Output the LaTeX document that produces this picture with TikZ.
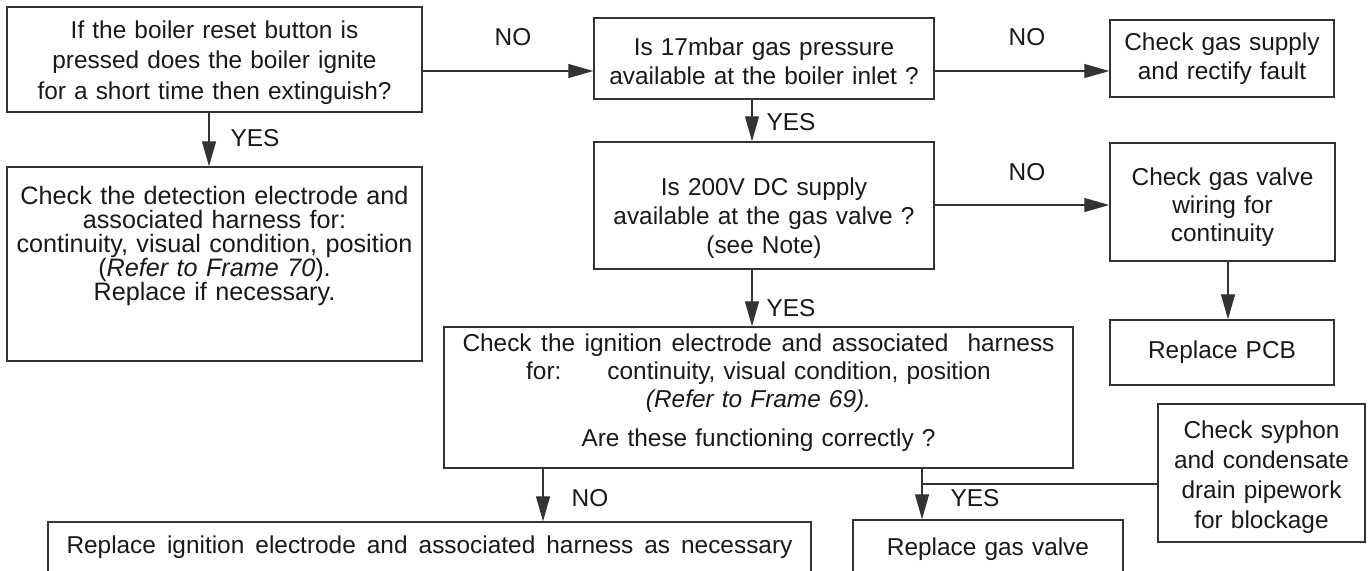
\documentclass[tikz,border=0pt]{standalone}
\usepackage{fontspec}
\setmainfont{Liberation Sans}[WordSpace=1.2]
\usetikzlibrary{arrows.meta,positioning}

\newcommand\tightlines{\lineskiplimit=-20pt\relax}

\tikzset{
  box/.style={draw=black!80, line width=0.75pt, inner sep=2pt, align=center,
    text=black!90, font=\fontsize{12.2}{14.5}\selectfont},
  lbl/.style={inner sep=0pt, text=black!90, font=\fontsize{12.2}{14.5}\selectfont},
  arr/.style={draw=black!80, line width=0.65pt, -{Triangle[length=12.5pt,width=7pt]}},
  link/.style={draw=black!80, line width=0.65pt}
}

\begin{document}
\begin{tikzpicture}[x=0.5pt, y=-0.5pt]
  % page: 1369 x 570 px
  \fill[white] (0,0) rectangle (1369,570);
  \useasboundingbox (0,0) rectangle (1369,570);
  \clip (0,0) rectangle (1369,570);

  % Left column
  \node[box, minimum width=207.5pt, minimum height=52.5pt,
        font=\fontsize{12.2}{15.25}\selectfont] (qReset) at (214.5,59.5)
    {\rule{0pt}{12pt}If the boiler reset button is\\ pressed does the boiler ignite\\ for a short time then extinguish?};
  \node[box, minimum width=207.5pt, minimum height=97pt,
        font=\fontsize{12.6}{12}\selectfont\tightlines] (chkDetect) at (214.5,264)
    {Check the detection electrode and\\ associated harness for:\\
     continuity, visual condition, position\\ (\textit{Refer to Frame 70}).\\
     Replace if necessary.\rule[-21pt]{0pt}{21pt}};

  % Middle column
  \node[box, minimum width=170pt, minimum height=40.5pt] (qGas) at (764,58.5)
    {\rule{0pt}{12pt}Is 17mbar gas pressure\\ available at the boiler inlet ?};
  \node[box, minimum width=170pt, minimum height=63.5pt] (qDC) at (764,205.5)
    {\rule{0pt}{22pt}Is 200V DC supply\\ available at the gas valve ?\\ (see Note)};
  \node[box, minimum width=314.5pt, minimum height=70.5pt,
        font=\fontsize{12.2}{14}\selectfont] (qIgn) at (758.5,397.5)
    {\makebox[296pt][s]{Check the ignition electrode and associated\ \ harness}\\
     for:\hspace{23pt}continuity, visual condition, position\\
     \textit{(Refer to Frame 69).}\\[5.5pt]
     Are these functioning correctly ?\rule[-7.5pt]{0pt}{7.5pt}};

  % Right column
  \node[box, minimum width=112pt, minimum height=38.5pt] (chkSupply) at (1222,58.5)
    {Check gas supply\\ and rectify fault};
  \node[box, minimum width=112.5pt, minimum height=59pt,
        font=\fontsize{12.2}{14}\selectfont] (chkWiring) at (1222.5,202)
    {\rule{0pt}{14pt}Check gas valve\\ wiring for\\ continuity};
  \node[box, minimum width=112pt, minimum height=32.5pt] (repPCB) at (1222,352.5)
    {Replace PCB};
  \node[box, minimum width=103.5pt, minimum height=69pt,
        font=\fontsize{12.2}{15}\selectfont] (chkSyphon) at (1261.5,473)
    {\rule{0pt}{13pt}Check syphon\\ and condensate\\ drain pipework\\ for blockage};

  % Bottom row (runs off the page)
  \node[box, minimum width=381.5pt, minimum height=40pt] (repIgn) at (429.5,562)
    {\makebox[363pt][s]{Replace ignition electrode and associated harness as necessary}\rule[-17pt]{0pt}{17pt}};
  \node[box, minimum width=135pt, minimum height=40pt] (repValve) at (988,560)
    {Replace gas valve\rule[-13pt]{0pt}{13pt}};

  % Connectors
  \draw[arr] (qReset.east |- 0,71) -- (qGas.west |- 0,71);
  \draw[arr] (qGas.east |- 0,71) -- (chkSupply.west |- 0,71);
  \draw[arr] (qReset.south -| 209,0) -- (chkDetect.north -| 209,0);
  \draw[arr] (qGas.south -| 752,0) -- (qDC.north -| 752,0);
  \draw[arr] (qDC.east |- 0,205) -- (chkWiring.west |- 0,205);
  \draw[arr] (qDC.south -| 752,0) -- (qIgn.north -| 752,0);
  \draw[arr] (chkWiring.south -| 1228,0) -- (repPCB.north -| 1228,0);
  \draw[arr] (qIgn.south -| 543,0) -- (repIgn.north -| 543,0);
  \draw[arr] (qIgn.south -| 922,0) -- (repValve.north -| 922,0);
  \coordinate (joinYes) at (922,484);
  \draw[link] (chkSyphon.west |- joinYes) -- (joinYes);

  % Labels
  \node[lbl] (noGas) at (513,37) {NO};
  \node[lbl] (noSupply) at (1027,37) {NO};
  \node[lbl] (noDC) at (1027,172) {NO};
  \node[lbl] (yesDetect) at (255,138) {YES};
  \node[lbl] (yesGas) at (791,122) {YES};
  \node[lbl] (yesDC) at (791,308) {YES};
  \node[lbl] (noIgn) at (590,498) {NO};
  \node[lbl] (yesIgn) at (975,498) {YES};
\end{tikzpicture}
\end{document}
